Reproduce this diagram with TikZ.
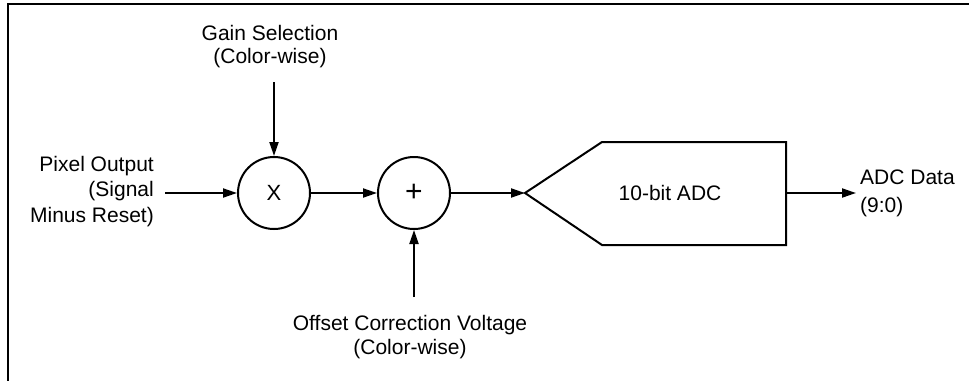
\documentclass[tikz,border=0pt]{standalone}
\usepackage{fontspec}
\setmainfont{Liberation Sans}
\usetikzlibrary{arrows.meta}
\usetikzlibrary{calc}

\begin{document}
\begin{tikzpicture}[x=1pt, y=-1pt,
        fnt/.style={font=\fontsize{21}{#1}\selectfont},
        mixer/.style={draw, circle, line width=2pt, minimum size=72pt, inner sep=0pt},
        arr/.style={line width=2pt, -{Triangle[length=14pt, width=9pt]}}]
        \useasboundingbox (0,0) rectangle (969,381);
        \draw [line width=2pt] (969,3.5) -- (8,3.5) -- (8,381);
        \node [mixer, font=\fontsize{22}{24}\selectfont] (mult) at (274,193) {X};
        \node [mixer, font=\fontsize{30}{30}\selectfont] (add) at (414,193) {+};
      \node [fnt=23, align=center, anchor=south, inner xsep=0pt, inner ysep=14pt] (gain) at (270,82) {Gain Selection\\(Color-wise)};
      \node [fnt=25.5, align=right, anchor=north east, inner xsep=11pt, inner ysep=0pt] (pix) at (165,156) {Pixel Output\\(Signal\\Minus Reset)};
      \node [fnt=24, align=center, anchor=north, inner xsep=0pt, inner ysep=18pt] (offset) at (410,297) {Offset Correction Voltage\\(Color-wise)};
      \node [fnt=28, align=left, anchor=north west, inner xsep=4pt, inner ysep=0pt] (data) at (856,170) {ADC Data\\(9:0)};
      \coordinate (adcin) at (525,193);
      \coordinate (adcout) at (786,193);
      \draw [line width=2pt, line join=miter] (adcin) -- (602,142) -- (786,142) -- (786,245) -- (602,245) -- cycle;
      \node [fnt=24] (adc) at (670,193) {10-bit ADC};
      \draw [arr] (gain.south -| mult.north) -- (mult.north);
      \draw [arr] (pix.east |- mult.west) -- (mult.west);
      \draw [arr] (mult.east) -- (add.west);
      \draw [arr] (offset.north -| add.south) -- (add.south);
      \draw [arr] (add.east) -- (adcin);
      \draw [arr] (adcout) -- (data.west |- adcout);
    \end{tikzpicture}
\end{document}
